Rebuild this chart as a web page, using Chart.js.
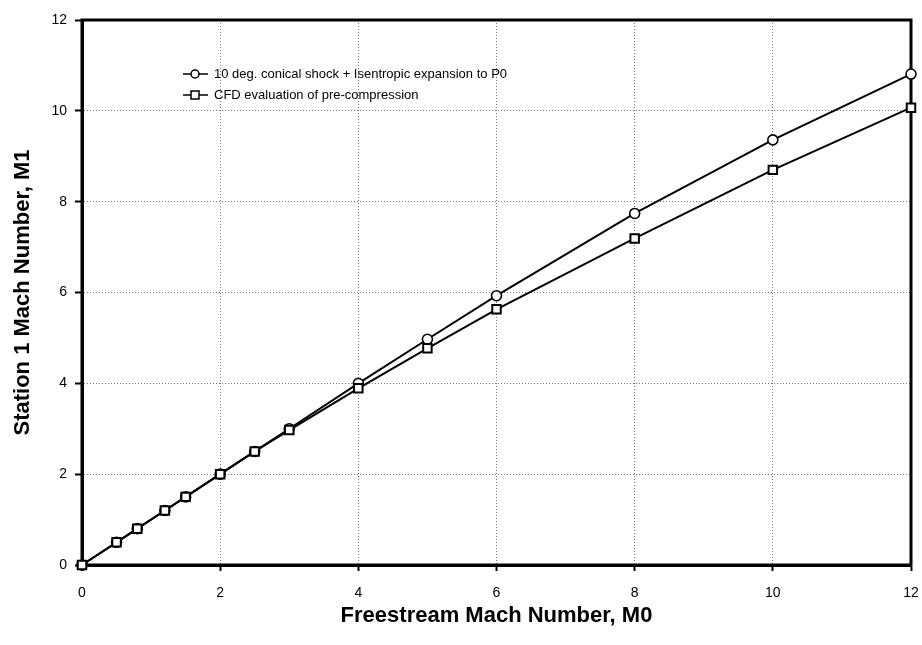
<!DOCTYPE html>
<html>
<head>
<meta charset="utf-8">
<script src="https://cdn.jsdelivr.net/npm/chart.js@4"></script>
<style>
  html, body { margin: 0; padding: 0; background: #fff; }
  #wrap { width: 922px; height: 645px; }
</style>
</head>
<body>
<div id="wrap"><canvas id="myChart" width="922" height="645"></canvas></div>
<script>
var fuente = "'Liberation Sans', Arial, sans-serif";

// datos
var machLibre = [0, 0.5, 0.8, 1.2, 1.5, 2, 2.5, 3, 4, 5, 6, 8, 10, 12];
var machCono = [0, 0.5, 0.8, 1.2, 1.5, 2, 2.5, 3, 4.0, 4.97, 5.93, 7.74, 9.36, 10.81];
var machCFD = [0, 0.5, 0.8, 1.2, 1.5, 2, 2.5, 2.97, 3.89, 4.77, 5.63, 7.19, 8.70, 10.07];
var nombres = ['10 deg. conical shock + Isentropic expansion to P0', 'CFD evaluation of pre-compression'];
var ticksX = [0, 2, 4, 6, 8, 10, 12];
var ticksY = [0, 2, 4, 6, 8, 10, 12];

function puntos(xs, ys) {
    var r = [];
    for (var i = 0; i < xs.length; i++) r.push({x: xs[i], y: ys[i]});
    return r;
}

// marco completo y leyenda dentro del area
var marco = {
    id: 'marco',
    beforeDatasetsDraw: function(chart) {
        var a = chart.chartArea, c = chart.ctx;
        c.save();
        c.strokeStyle = '#000';
        c.lineWidth = 3;
        c.strokeRect(a.left, a.top, a.right - a.left, a.bottom - a.top);
        c.restore();
    },
    afterDraw: function(chart) {
        var c = chart.ctx;
        var filas = [74, 95];
        var estilos = ['circle', 'rect'];
        c.save();
        for (var i = 0; i < nombres.length; i++) {
            var y = filas[i];
            c.strokeStyle = '#000';
            c.lineWidth = 1.5;
            c.beginPath();
            c.moveTo(183, y);
            c.lineTo(208, y);
            c.stroke();
            c.fillStyle = '#fff';
            c.beginPath();
            if (estilos[i] == 'circle') {
                c.arc(195, y, 4, 0, Math.PI * 2);
            } else {
                c.rect(191, y - 4, 8, 8);
            }
            c.fill();
            c.stroke();
            c.fillStyle = '#000';
            c.font = '13px ' + fuente;
            c.textBaseline = 'middle';
            c.fillText(nombres[i], 214, y);
        }
        c.restore();
    }
};

var ctx = document.getElementById('myChart').getContext('2d');
var chart = new Chart(ctx, {
    type: 'scatter',
    data: {
        datasets: [{
            label: nombres[0],
            data: puntos(machLibre, machCono),
            order: 1,
            showLine: true,
            borderColor: '#000',
            borderWidth: 2,
            backgroundColor: '#fff',
            pointStyle: 'circle',
            pointRadius: 5,
            pointBorderWidth: 1.6,
            pointBorderColor: '#000',
            clip: false
        }, {
            label: nombres[1],
            data: puntos(machLibre, machCFD),
            order: 0,
            showLine: true,
            borderColor: '#000',
            borderWidth: 2,
            backgroundColor: '#fff',
            pointStyle: 'rect',
            pointRadius: 6,
            pointBorderWidth: 2,
            pointBorderColor: '#000',
            clip: false
        }]
    },
    options: {
        responsive: false,
        animation: false,
        layout: { padding: { top: 20, right: 11, left: 0, bottom: 0 } },
        plugins: {
            legend: { display: false },
            tooltip: { enabled: false }
        },
        scales: {
            x: {
                type: 'linear',
                min: 0, max: 12,
                afterBuildTicks: function(s) { s.ticks = ticksX.map(function(v) { return {value: v}; }); },
                afterFit: function(s) { s.height = 80; s.paddingRight = 0; s.paddingLeft = 0; },
                grid: { color: '#777', lineWidth: 1, tickColor: '#000', tickWidth: 2, tickLength: 6 },
                border: { display: true, color: '#000', width: 3, dash: [1, 2] },
                ticks: { color: '#000', font: { family: fuente, size: 14 }, padding: 14, maxRotation: 0 },
                title: { display: true, text: 'Freestream Mach Number, M0', color: '#000',
                         font: { family: fuente, size: 22, weight: 'bold' }, padding: { top: 4, bottom: 16 } }
            },
            y: {
                type: 'linear',
                min: 0, max: 12,
                afterBuildTicks: function(s) { s.ticks = ticksY.map(function(v) { return {value: v}; }); },
                afterFit: function(s) { s.width = 82; s.paddingTop = 0; s.paddingBottom = 0; },
                grid: { color: '#777', lineWidth: 1, tickColor: '#000', tickWidth: 2, tickLength: 7 },
                border: { display: true, color: '#000', width: 3, dash: [1, 2] },
                ticks: { color: '#000', font: { family: fuente, size: 14 }, padding: 8 },
                title: { display: true, text: 'Station 1 Mach Number, M1', color: '#000',
                         font: { family: fuente, size: 22, weight: 'bold' }, padding: { top: 10, bottom: 8 } }
            }
        }
    },
    plugins: [marco]
});
</script>
</body>
</html>
